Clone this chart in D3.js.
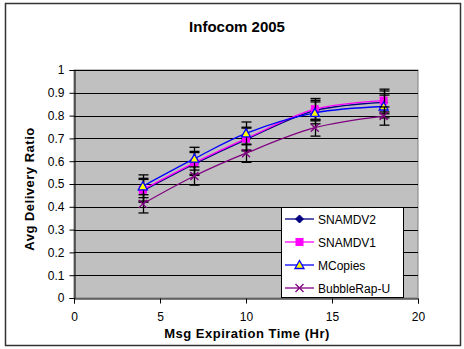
<!DOCTYPE html>
<html>
<head>
<meta charset="utf-8">
<script src="https://cdn.jsdelivr.net/npm/d3@7"></script>
<style>
  html, body { margin: 0; padding: 0; background: #fff; }
  svg { display: block; font-family: Arial, "Liberation Sans", sans-serif; }
</style>
</head>
<body>
<svg id="chart" width="464" height="349"></svg>
<script>
// Message expiration time (hours) for each measurement
const expiry = [4, 7, 10, 14, 18];

// Average delivery ratio per protocol
const snamdv2 = [0.470, 0.588, 0.695, 0.822, 0.858];
const snamdv1 = [0.475, 0.593, 0.699, 0.828, 0.866];
const mcopies = [0.490, 0.611, 0.722, 0.812, 0.840];
const bubbleRapU = [0.413, 0.535, 0.635, 0.747, 0.798];

// Half-width of the error bars
const errSnamdv2 = [0.050, 0.050, 0.050, 0.045, 0.050];
const errSnamdv1 = [0.050, 0.050, 0.050, 0.047, 0.050];
const errMcopies = [0.050, 0.050, 0.050, 0.048, 0.050];
const errBubble = [0.040, 0.040, 0.040, 0.037, 0.040];

const seriesNames = ["SNAMDV2", "SNAMDV1", "MCopies", "BubbleRap-U"];
const xTicks = [0, 5, 10, 15, 20];
const yTicks = [0, 0.1, 0.2, 0.3, 0.4, 0.5, 0.6, 0.7, 0.8, 0.9, 1];

const series = [
  { name: seriesNames[0], values: snamdv2, err: errSnamdv2, color: "#000080", marker: "diamond", fill: "#000080" },
  { name: seriesNames[1], values: snamdv1, err: errSnamdv1, color: "#FF00FF", marker: "square", fill: "#FF00FF" },
  { name: seriesNames[2], values: mcopies, err: errMcopies, color: "#0000FF", marker: "triangle", fill: "#FFFF00" },
  { name: seriesNames[3], values: bubbleRapU, err: errBubble, color: "#800080", marker: "cross", fill: "none" }
];

const svg = d3.select("#chart");

// Outer frame
svg.append("rect")
  .attr("x", 5.5).attr("y", 3.5)
  .attr("width", 455).attr("height", 342)
  .attr("fill", "#fff").attr("stroke", "#333").attr("stroke-width", 1.5);

const plot = { left: 74, right: 418, top: 70, bottom: 298 };

const x = d3.scaleLinear().domain([0, 20]).range([plot.left, plot.right]);
const y = d3.scaleLinear().domain([0, 1]).range([plot.bottom, plot.top]);

// Plot background
svg.append("rect")
  .attr("x", plot.left).attr("y", plot.top)
  .attr("width", plot.right - plot.left).attr("height", plot.bottom - plot.top)
  .attr("fill", "#C0C0C0").attr("stroke", "#808080").attr("stroke-width", 1);

// Horizontal gridlines
svg.append("g")
  .selectAll("line")
  .data(yTicks.filter(d => d > 0))
  .join("line")
  .attr("x1", plot.left).attr("x2", plot.right)
  .attr("y1", d => Math.round(y(d)) + 0.5).attr("y2", d => Math.round(y(d)) + 0.5)
  .attr("stroke", "#000").attr("stroke-width", 1);

// Axes
const yAxis = svg.append("g")
  .attr("transform", `translate(${plot.left + 0.5},0)`)
  .call(d3.axisLeft(y).tickValues(yTicks).tickFormat(d3.format("")).tickSize(5).tickPadding(5));
const xAxis = svg.append("g")
  .attr("transform", `translate(0,${plot.bottom + 0.5})`)
  .call(d3.axisBottom(x).tickValues(xTicks).tickFormat(d3.format("d")).tickSize(5).tickPadding(9));

[yAxis, xAxis].forEach(g => {
  g.select(".domain").attr("stroke", "#000").attr("stroke-width", 1);
  g.selectAll(".tick line").attr("stroke", "#000");
  g.selectAll(".tick text").attr("fill", "#000").attr("font-size", 12).attr("font-family", "Arial, 'Liberation Sans', sans-serif");
});

// Title and axis titles
svg.append("text")
  .attr("x", 237).attr("y", 32)
  .attr("text-anchor", "middle")
  .attr("font-size", 15).attr("font-weight", "bold")
  .text("Infocom 2005");

svg.append("text")
  .attr("transform", `translate(34,${(plot.top + plot.bottom) / 2 + 5}) rotate(-90)`)
  .attr("text-anchor", "middle")
  .attr("font-size", 13).attr("font-weight", "bold")
  .attr("letter-spacing", 0.5)
  .text("Avg Delivery Ratio");

svg.append("text")
  .attr("x", 247).attr("y", 338)
  .attr("text-anchor", "middle")
  .attr("font-size", 13).attr("font-weight", "bold")
  .attr("letter-spacing", 0.5)
  .text("Msg Expiration Time (Hr)");

// Smoothed series lines
const line = d3.line()
  .x((d, i) => x(expiry[i]))
  .y(d => y(d))
  .curve(d3.curveCatmullRom.alpha(0.5));

function drawMarker(g, s, cx, cy) {
  if (s.marker === "diamond") {
    g.append("path")
      .attr("d", `M${cx},${cy - 4}L${cx + 4},${cy}L${cx},${cy + 4}L${cx - 4},${cy}Z`)
      .attr("fill", s.fill).attr("stroke", s.color);
  } else if (s.marker === "square") {
    g.append("rect")
      .attr("x", cx - 3.5).attr("y", cy - 3.5).attr("width", 7).attr("height", 7)
      .attr("fill", s.fill).attr("stroke", s.color);
  } else if (s.marker === "triangle") {
    g.append("path")
      .attr("d", `M${cx},${cy - 4.5}L${cx + 4.5},${cy + 3.5}L${cx - 4.5},${cy + 3.5}Z`)
      .attr("fill", s.fill).attr("stroke", s.color).attr("stroke-width", 1.3);
  } else {
    g.append("path")
      .attr("d", `M${cx - 4},${cy - 4}L${cx + 4},${cy + 4}M${cx - 4},${cy + 4}L${cx + 4},${cy - 4}`)
      .attr("stroke", s.color).attr("stroke-width", 1.3).attr("fill", "none");
  }
}

series.forEach(s => {
  const g = svg.append("g");
  g.append("path")
    .datum(s.values)
    .attr("d", line)
    .attr("fill", "none")
    .attr("stroke", s.color)
    .attr("stroke-width", 1.3);

  // Error bars
  s.values.forEach((v, i) => {
    const cx = Math.round(x(expiry[i])) + 0.5;
    const hi = y(v + s.err[i]), lo = y(v - s.err[i]);
    g.append("line").attr("x1", cx).attr("x2", cx).attr("y1", hi).attr("y2", lo)
      .attr("stroke", "#000").attr("stroke-width", 1.3);
    [hi, lo].forEach(yy => g.append("line")
      .attr("x1", cx - 5).attr("x2", cx + 5).attr("y1", yy).attr("y2", yy)
      .attr("stroke", "#000").attr("stroke-width", 1.3));
  });

  s.values.forEach((v, i) => drawMarker(g, s, x(expiry[i]), y(v)));
});

// Legend
const legend = svg.append("g");
legend.append("rect")
  .attr("x", 281.5).attr("y", 207.5).attr("width", 122).attr("height", 90)
  .attr("fill", "#fff").attr("stroke", "#000").attr("stroke-width", 1);

series.forEach((s, i) => {
  const ly = 219 + i * 23;
  const row = legend.append("g");
  row.append("line").attr("x1", 285).attr("x2", 314).attr("y1", ly).attr("y2", ly)
    .attr("stroke", s.color).attr("stroke-width", 1.3);
  drawMarker(row, s, 299.5, ly);
  row.append("text")
    .attr("x", 318).attr("y", ly + 4.5)
    .attr("font-size", 12)
    .text(s.name);
});
</script>
</body>
</html>
